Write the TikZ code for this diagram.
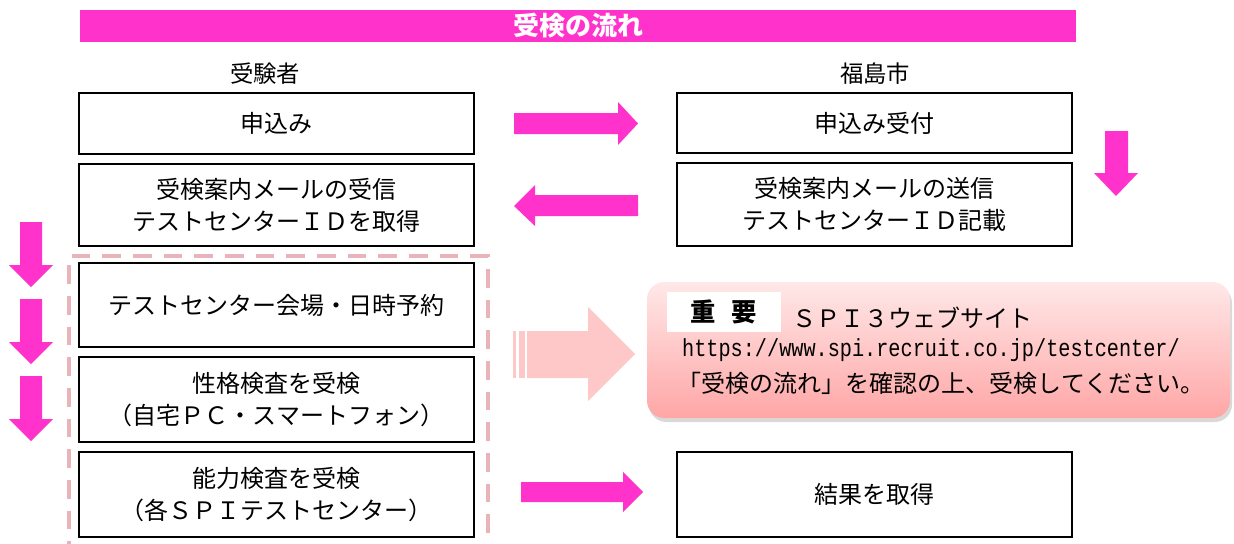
\documentclass[tikz,border=0pt]{standalone}
\usepackage{fontspec}
\setmainfont{Noto Sans CJK JP}
\newfontfamily\urlfont{Liberation Mono}
\usepackage{tikz}
\usetikzlibrary{shadows}

\definecolor{flowpink}{RGB}{255,51,204}
\definecolor{palepink}{RGB}{255,200,200}
\definecolor{framepink}{RGB}{232,180,185}
\definecolor{notetop}{RGB}{255,232,232}
\definecolor{notebottom}{RGB}{255,166,166}

\begin{document}
\begin{tikzpicture}[x=0.75pt,y=0.75pt,yscale=-1,xscale=1,
  box/.style={draw, line width=1.1pt, minimum width=296.25pt, align=center, inner sep=0pt, font=\fontsize{18}{24}\selectfont},
  hdr/.style={inner sep=0pt, font=\fontsize{17.5}{20}\selectfont},
  notetext/.style={inner sep=0pt, font=\fontsize{18}{20}\selectfont}]
\useasboundingbox (0,0) rectangle (1234,543);
\clip (0,0) rectangle (1234,543);

% Title bar
\node (title) [fill=flowpink, minimum width=747pt, minimum height=24pt, inner sep=0pt, text=white, font=\fontsize{19.5}{20}\selectfont\bfseries] at (578,26) {受検の流れ};
% Text Node
\node (hdrL) [hdr] at (265,74) {受験者};
% Text Node
\node (hdrR) [hdr] at (875,74) {福島市};

% Dashed frame
\draw [framepink, line width=2.3pt, dash pattern={on 14pt off 9pt}] (69,560) -- (69,256) -- (488,256) -- (488,560);

% Left column
\node (apply) [box, minimum height=45.75pt] at (276.5,123.5) {申込み};
\node (guide) [box, minimum height=61.5pt] at (276.5,205) {受検案内メールの受信\\テストセンターＩＤを取得};
\node (reserve) [box, minimum height=63pt] at (276.5,305) {テストセンター会場・日時予約};
\node (perstest) [box, minimum height=63.75pt] at (276.5,399.5) {性格検査を受検\\（自宅ＰＣ・スマートフォン）};
\node (abiltest) [box, minimum height=63.75pt] at (276.5,494.5) {能力検査を受検\\（各ＳＰＩテストセンター）};

% Right column
\node (recv) [box, minimum height=45pt] at (874.5,123) {申込み受付};
\node (send) [box, minimum height=62.25pt] at (874.5,204.5) {受検案内メールの送信\\テストセンターＩＤ記載};
\node (result) [box, minimum height=63.75pt] at (874.5,494.5) {結果を取得};

% Arrow: apply -> recv
\fill [flowpink] (514,113) -- (618,113) -- (618,102) -- (638,123.5) -- (618,145) -- (618,134) -- (514,134) -- cycle;
% Arrow: send -> guide
\fill [flowpink] (638,195) -- (535,195) -- (535,185) -- (514,206) -- (535,226) -- (535,216) -- (638,216) -- cycle;
% Arrow: recv -> send
\fill [flowpink] (1105,131) -- (1128,131) -- (1128,173) -- (1138,173) -- (1116,196) -- (1094,173) -- (1105,173) -- cycle;
% Arrows: left column, downwards
\fill [flowpink] (20,222) -- (42,222) -- (42,265) -- (53,265) -- (31,287) -- (9,265) -- (20,265) -- cycle;
\fill [flowpink] (20,299) -- (42,299) -- (42,342) -- (53,342) -- (31,364) -- (9,342) -- (20,342) -- cycle;
\fill [flowpink] (20,376) -- (42,376) -- (42,419) -- (53,419) -- (31,441) -- (9,419) -- (20,419) -- cycle;
% Arrow: abiltest -> result
\fill [flowpink] (521,482) -- (623,482) -- (623,472) -- (643,492) -- (623,512) -- (623,502) -- (521,502) -- cycle;

% Striped arrow towards note
\fill [palepink] (513,331) rectangle (516,378);
\fill [palepink] (518.5,331) rectangle (524.5,378);
\fill [palepink] (527,331) -- (588,331) -- (588,307) -- (635,354) -- (588,401) -- (588,378) -- (527,378) -- cycle;

% Note
\node (note) [rounded corners=13pt, top color=notetop, bottom color=notebottom, minimum width=437.25pt, minimum height=102pt, inner sep=0pt, drop shadow={opacity=0.3, shadow xshift=1.5pt, shadow yshift=-3pt}] at (938.5,350) {};
\node (important) [fill=white, minimum width=85.5pt, minimum height=30pt, inner sep=0pt, font=\fontsize{19}{20}\selectfont\bfseries] at (724,312) {重\hspace{12pt}要};
\node (site) [notetext, anchor=west] at (792,318) {ＳＰＩ３ウェブサイト};
\node (url) [inner sep=0pt, font=\urlfont\fontsize{18.5}{20}\selectfont] at (931,350) {\scalebox{0.82}[1]{https://www.spi.recruit.co.jp/testcenter/}};
\node (confirm) [notetext] at (941,383) {「受検の流れ」を確認の上、受検してください。};

\end{tikzpicture}
\end{document}
